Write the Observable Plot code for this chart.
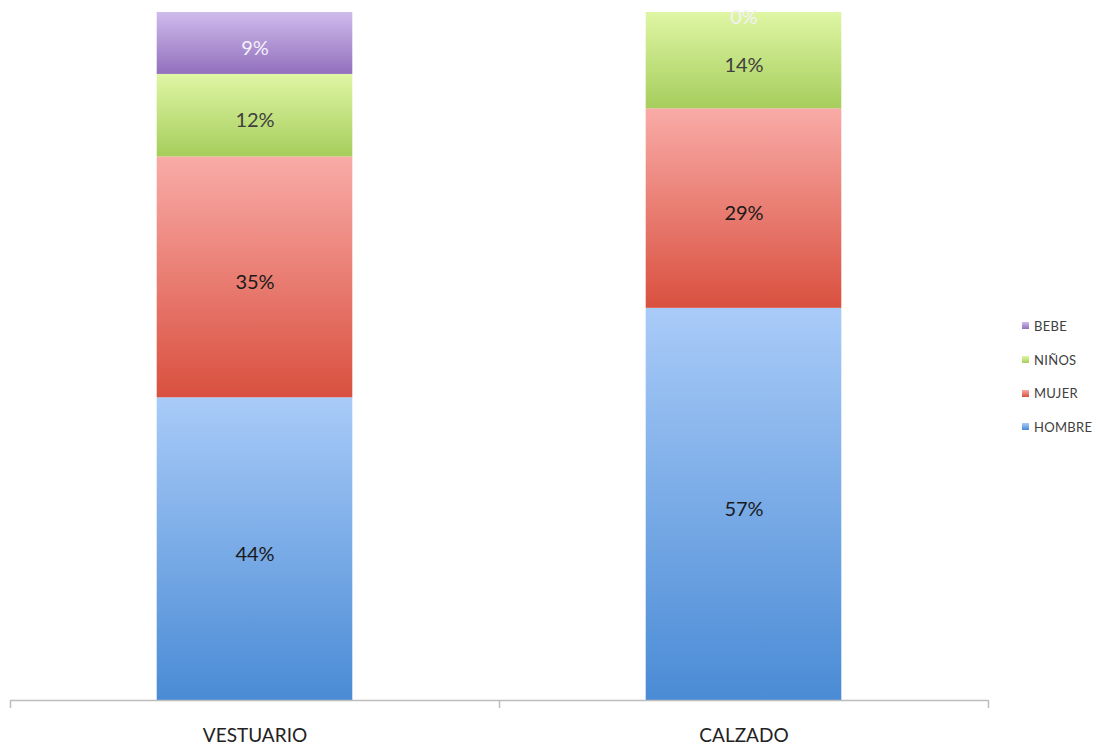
<!DOCTYPE html>
<html><head><meta charset="utf-8">
<script src="https://cdn.jsdelivr.net/npm/d3@7"></script>
<script src="https://cdn.jsdelivr.net/npm/@observablehq/plot@0.6"></script>
<style>
body{margin:0;background:#fff;font-family:Lato, "Open Sans", sans-serif;}
#wrap{position:relative;width:1097px;height:746px;}
#legend{position:absolute;left:1022px;top:309px;font-size:13px;letter-spacing:0.3px;color:#404040;}
.item{display:flex;align-items:center;height:33.7px;}
.sw{width:7px;height:7px;margin-right:5px;}
</style></head>
<body><div id="wrap"><div id="legend"></div></div>
<script>
const categories = ["VESTUARIO", "CALZADO"];
const series = ["HOMBRE", "MUJER", "NIÑOS", "BEBE"];
const hombre = [44, 57];
const mujer = [35, 29];
const ninos = [12, 14];
const bebe = [9, 0];
const values = [hombre, mujer, ninos, bebe];
const topColors = ["#a9cbf8", "#f9aba7", "#dff6a4", "#cfbbec"];
const bottomColors = ["#4a8bd5", "#d9503f", "#a6cd5c", "#9270bd"];
const labelColors = ["#1a1a1a", "#1a1a1a", "#404040", "#f4f0fa"];

const rows = [];
categories.forEach((c, i) => {
  let acc = 0;
  series.forEach((s, k) => {
    const v = values[k][i];
    rows.push({cat: c, i, series: s, k, value: v, y1: acc, y2: acc + v});
    acc += v;
  });
});

const plot = Plot.plot({
  width: 1097, height: 746,
  marginTop: 12, marginBottom: 46, marginLeft: 10, marginRight: 109,
  x: {type: "linear", domain: [0, categories.length], axis: null},
  y: {domain: [0, 100], axis: null},
  color: {type: "identity"},
  style: {fontFamily: "Lato, 'Open Sans', sans-serif", background: "#fff"},
  marks: [
    Plot.rectY(rows, {x1: d => d.i + 0.3, x2: d => d.i + 0.7, y1: "y1", y2: "y2", fill: d => `url(#grad${d.k})`}),
    Plot.text(rows, {x: d => d.i + 0.5, y: d => (d.y1 + d.y2) / 2, text: d => d.value + "%", fill: d => labelColors[d.k], fontSize: 20, dy: 5}),
    Plot.ruleY([0], {stroke: "#bdbdbd", strokeWidth: 1.5}),
    Plot.axisX(d3.range(categories.length + 1), {tickSize: 8, tickFormat: () => "", stroke: "#bdbdbd", strokeWidth: 1.5}),
    Plot.axisX(categories.map((c, i) => i + 0.5), {tickSize: 0, tickPadding: 28, tickFormat: d => categories[Math.floor(d)], fontSize: 19, fill: "#222"})
  ]
});

const defs = d3.select(plot).insert("defs", ":first-child");
series.forEach((s, k) => {
  const g = defs.append("linearGradient").attr("id", "grad" + k)
    .attr("x1", 0).attr("y1", 0).attr("x2", 0).attr("y2", 1);
  g.append("stop").attr("offset", "0%").attr("stop-color", topColors[k]);
  g.append("stop").attr("offset", "100%").attr("stop-color", bottomColors[k]);
});

document.getElementById("wrap").prepend(plot);

const legend = d3.select("#legend");
series.slice().reverse().forEach((s) => {
  const k = series.indexOf(s);
  const it = legend.append("div").attr("class", "item");
  it.append("div").attr("class", "sw").style("background", `linear-gradient(${topColors[k]}, ${bottomColors[k]})`);
  it.append("span").text(s);
});
</script>
</body></html>
